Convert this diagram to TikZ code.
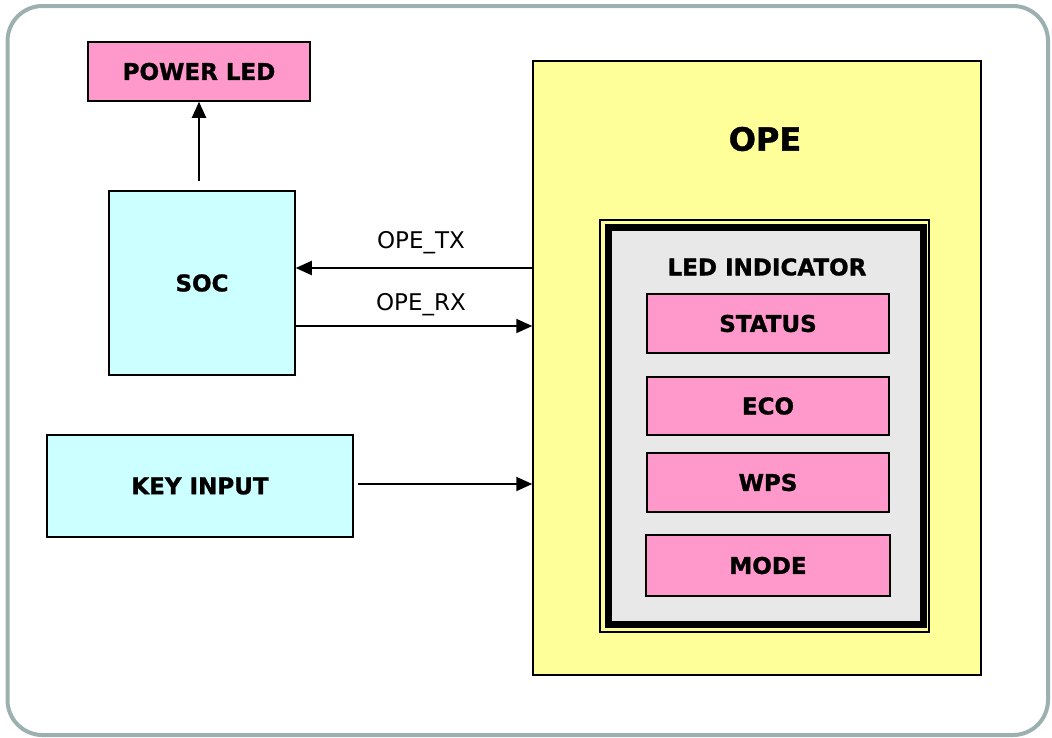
\documentclass[tikz,border=0pt]{standalone}
\usepackage{fontspec}
\setmainfont{DejaVu Sans}
\newfontfamily\heavyfont[FakeBold=1.2]{DejaVu Sans Bold}
\usetikzlibrary{arrows.meta}
\definecolor{pinkfill}{HTML}{FF99CC}
\definecolor{cyanfill}{HTML}{CCFFFF}
\definecolor{yellowfill}{HTML}{FFFF99}
\definecolor{grayfill}{HTML}{E8E8E8}
\definecolor{framegray}{HTML}{9DB0B0}
\tikzset{
  heavy/.style={font=\heavyfont\fontsize{23}{27}\selectfont},
  blk/.style={draw=black, line width=1.5pt, inner sep=0pt, heavy},
  pinkbox/.style={blk, fill=pinkfill, minimum width=242pt, minimum height=59pt},
  cyanbox/.style={blk, fill=cyanfill},
  arr/.style={line width=2pt, -{Triangle[length=16pt, width=14pt]}},
  siglabel/.style={font=\fontsize{23}{27}\selectfont, inner sep=0pt}
}
\begin{document}
\begin{tikzpicture}[x=1pt, y=-1pt]
\useasboundingbox (0,0) rectangle (1052,737);
\draw[framegray, line width=4pt, rounded corners=35pt] (7.5,6) rectangle (1048,735);

% OPE block
\node[draw=black, line width=1.5pt, fill=yellowfill, minimum width=448pt, minimum height=614pt, inner sep=0pt] (ope) at (757,368) {};
\node[font=\heavyfont\fontsize{32}{36}\selectfont, inner sep=0pt] (opetitle) at (765,139) {OPE};

% LED indicator frame
\node[draw=black, line width=1.2pt, minimum width=329pt, minimum height=412pt, inner sep=0pt] (ledouter) at (764.5,426) {};
\node[draw=black, line width=7pt, fill=grayfill, minimum width=315pt, minimum height=396.5pt, inner sep=0pt] (led) at (766,425.75) {};
\node[heavy, inner sep=0pt] (ledtitle) at (767,267) {LED INDICATOR};
\node[pinkbox] (status) at (768,323.5) {STATUS};
\node[pinkbox, minimum height=58pt] (eco) at (768,406) {ECO};
\node[pinkbox] (wps) at (768,482.5) {WPS};
\node[pinkbox, minimum width=244pt, minimum height=61pt] (mode) at (768,565.5) {MODE};

% left blocks
\node[blk, fill=pinkfill, minimum width=222pt, minimum height=59pt] (powerled) at (199,71.5) {POWER LED};
\node[cyanbox, minimum width=186pt, minimum height=184pt] (soc) at (202,283) {SOC};
\node[cyanbox, minimum width=306pt, minimum height=102pt] (key) at (200,486) {KEY INPUT};

% connectors
\coordinate (pwrstart) at (199,181);
\draw[arr] (pwrstart) -- (powerled.south -| pwrstart);

\coordinate (txy) at (0,268);
\coordinate (rxy) at (0,326);
\draw[arr] (ope.west |- txy) -- (soc.east |- txy);
\draw[arr] (soc.east |- rxy) -- (ope.west |- rxy);
\node[siglabel] (txlabel) at (421,243) {OPE\_TX};
\node[siglabel] (rxlabel) at (421,305) {OPE\_RX};

\coordinate (keystart) at (358,484);
\draw[arr] (keystart) -- (ope.west |- keystart);
\end{tikzpicture}
\end{document}
